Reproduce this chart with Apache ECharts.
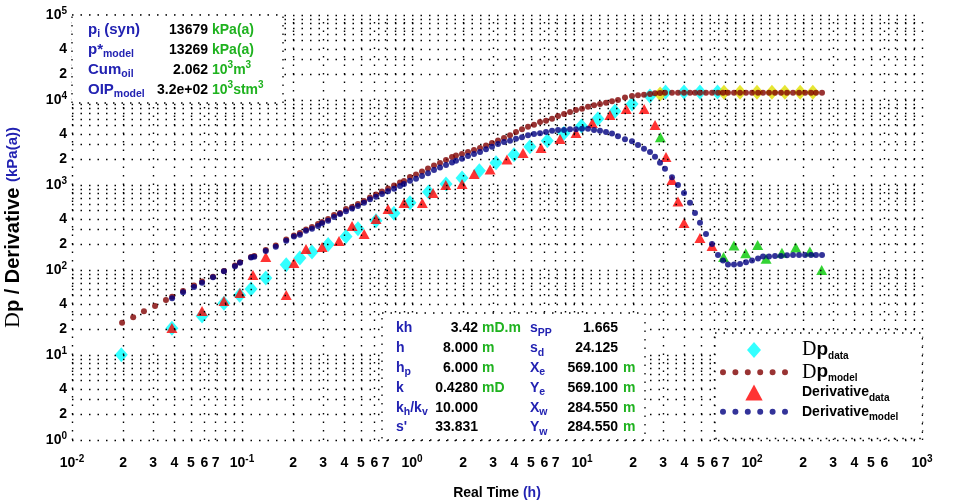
<!DOCTYPE html>
<html>
<head>
<meta charset="utf-8">
<script src="https://cdn.jsdelivr.net/npm/echarts@6.0.0/dist/echarts.min.js"></script>
<style>
html,body{margin:0;padding:0;background:#ffffff;}
#chart{width:956px;height:500px;}
</style>
</head>
<body>
<div id="chart"></div>
<script>
// ================= DATA =================
// Dp data (cyan diamonds)
const dpDataTime  = [0.0195,0.0387,0.0582,0.0783,0.0969,0.113,0.138,0.182,0.219,0.258,0.321,0.409,0.481,0.614,0.783,0.973,1.25,1.585,1.97,2.49,3.12,3.98,4.94,6.25,7.83,9.93,12.4,15.6,19.7,25.1,31.0,39.8,49.4,62.7];
const dpDataValue = [10.1,20.6,28.8,40.6,50.4,59.8,80.5,115,138,163,199,247,306,380,464,619,830,1028,1209,1473,1830,2271,2823,3320,4058,4943,6026,7362,8974,11140,12420,12420,12420,12420];
// Dp data, differently flagged points (yellow diamonds)
const dpFlagTime  = [28.8,68.4,85.0,107,131,156,192,228];
const dpFlagValue = [11770,12300,12300,12300,12300,12300,12300,12300];
// Derivative data (red triangles)
const derDataTime  = [0.0387,0.0582,0.0783,0.0973,0.116,0.138,0.182,0.202,0.238,0.296,0.372,0.444,0.523,0.614,0.723,0.897,1.15,1.33,1.58,1.97,2.32,2.88,3.62,4.50,5.74,7.43,9.22,11.5,14.6,18.2,23.2,26.9,31.2,33.8,36.7,39.8,49.4,58.2];
const derDataValue = [20.8,32.9,43.2,53.6,87.4,142,50.8,121,177,187,219,329,265,398,522,614,614,805,1000,1028,1347,1521,1995,2378,2725,3476,4090,5360,6660,7830,7830,5080,2135,1145,640,357,238,192];
// Derivative data, differently flagged points (green triangles)
const derFlagTime  = [28.9,68.0,78.3,91.8,108,121,150,181,219,257];
const derFlagValue = [3640,142,194,157,197,136,160,184,165,100];
// Model curves
const modelTime = [0.0197,0.0229,0.0265,0.0308,0.0357,0.0388,0.0450,0.0522,0.0582,0.0675,
0.0783,0.0909,0.0973,0.113,0.118,0.138,0.158,0.182,0.202,0.219,
0.238,0.258,0.280,0.296,0.321,0.348,0.377,0.409,0.444,0.481,
0.522,0.566,0.614,0.666,0.723,0.784,0.850,0.897,0.973,1.056,
1.145,1.242,1.347,1.461,1.585,1.719,1.815,1.968,2.135,2.316,
2.512,2.724,2.955,3.205,3.477,3.772,4.091,4.438,4.814,5.221,
5.664,6.143,6.664,7.228,7.840,8.503,9.220,10.00,10.85,11.77,
12.76,13.84,15.01,16.28,17.90,19.68,21.35,23.16,25.12,26.88,
28.76,30.77,33.84,36.70,39.81,43.18,46.20,49.44,53.62,58.17,
63.10,67.52,72.25,78.37,85.03,92.20,100.0,108.5,116.1,125.9,
136.6,148.1,160.7,174.3,189.1,205.1,222.4,237.9,258.1];
const dpModelValue = [24.0,27.8,32.7,37.7,44.4,48.5,56.6,65.7,73.2,83.4,
97.3,113,123,142,146,172,194,228,255,272,
299,321,348,367,398,444,469,522,551,598,
648,713,773,839,910,986,1070,1114,1242,1330,
1442,1563,1695,1815,1968,2134,2223,2317,2445,2580,
2725,2915,3120,3340,3571,3846,4205,4520,4853,5120,
5510,5705,6026,6486,6845,7223,7623,7907,8345,8662,
8974,9298,9660,10000,10700,11140,11360,11540,11770,11990,
12100,12190,12190,12190,12190,12190,12190,12190,12190,12190,
12190,12190,12190,12190,12190,12190,12190,12190,12190,12190,
12190,12190,12190,12190,12190,12190,12190,12190,12190];
const derModelTime = modelTime.slice(5);
const derModelValue = [46.5,54.7,63.1,70.9,82.0,96.5,111,122,140,143,
167,188,221,247,260,290,306,329,354,380,
420,455,492,528,566,619,679,728,784,843,
904,973,1028,1125,1186,1276,1374,1500,1607,1719,
1841,1932,2038,2193,2317,2445,2630,2823,3036,3205,
3319,3508,3640,3846,3981,4055,4205,4355,4436,4436,
4520,4520,4593,4593,4436,4355,4205,4036,3741,3451,
3266,2958,2673,2445,2153,1829,1555,1232,1000,805,
619,469,360,265,202,150,129,116,116,118,
123,129,137,144,144,146,146,149,150,150,
150,150,150,150];

// Axes / ticks
const xMin = 0.01, xMax = 1000, yMin = 1, yMax = 100000;
const xDecades = [0.01, 0.1, 1, 10, 100];
const yDecades = [1, 10, 100, 1000, 10000];
const minorSteps = [2, 3, 4, 5, 6, 7, 8, 9];
const xMinorLabelSteps = [[2,3,4,5,6,7],[2,3,4,5,6,7],[2,3,4,5,6,7],[2,3,4,5,6,7],[2,3,4,5,6]];
const yMinorLabelSteps = [2, 4];

// Text content
const seriesNames = ['Dp data', 'Dp model', 'Derivative data', 'Derivative model'];
const legendLabels = {
  'Dp data': '{D|D}{p|p}{s|data}',
  'Dp model': '{D|D}{p|p}{s|model}',
  'Derivative data': '{t|Derivative}{s|data}',
  'Derivative model': '{t|Derivative}{s|model}'
};
const infoRows = [
  ['{b|p}{s|i}{b| (syn)}', '13679', '{g|kPa(a)}'],
  ['{b|p*}{s|model}', '13269', '{g|kPa(a)}'],
  ['{b|Cum}{s|oil}', '2.062', '{g|10}{gs|3}{g|m}{gs|3}'],
  ['{b|OIP}{s|model}', '3.2e+02', '{g|10}{gs|3}{g|stm}{gs|3}']
];
const paramRows = [
  ['{b|kh}', '3.42', '{g|mD.m}', '{b|s}{s|PP}', '1.665', ''],
  ['{b|h}', '8.000', '{g|m}', '{b|s}{s|d}', '24.125', ''],
  ['{b|h}{s|p}', '6.000', '{g|m}', '{b|X}{s|e}', '569.100', '{g|m}'],
  ['{b|k}', '0.4280', '{g|mD}', '{b|Y}{s|e}', '569.100', '{g|m}'],
  ['{b|k}{s|h}{b|/k}{s|v}', '10.000', '', '{b|X}{s|w}', '284.550', '{g|m}'],
  ["{b|s'}", '33.831', '', '{b|Y}{s|w}', '284.550', '{g|m}']
];

// ================= STYLE =================
const SANS = '"Liberation Sans", Arial, Helvetica, sans-serif';
const SERIF = '"Liberation Serif", "DejaVu Serif", "Times New Roman", serif';
const BLUE = '#2222b2';
const GREEN = '#1fb21f';
const DOT = [1.5, 7];

function zip(a, b) { return a.map((v, i) => [v, b[i]]); }

const tickRich = {
  b: {fontFamily: SANS, fontWeight: 'bold', fontSize: 14, lineHeight: 18, color: '#000'},
  s: {fontFamily: SANS, fontWeight: 'bold', fontSize: 10, lineHeight: 10, color: '#000', verticalAlign: 'top'}
};
function expLabel(v) {
  const e = Math.round(Math.log10(v));
  return '{b|10}{s|' + e + '}';
}

// grid lines (dotted) + minor tick labels
const xLines = [];
xDecades.forEach((d, i) => {
  xLines.push({xAxis: d});
  minorSteps.forEach(s => {
    const show = xMinorLabelSteps[i].indexOf(s) >= 0;
    xLines.push({xAxis: d * s, label: {show: show, formatter: String(s)}});
  });
});
xLines.push({xAxis: xMax});
const yLines = [];
yDecades.forEach(d => {
  yLines.push({yAxis: d});
  minorSteps.forEach(s => {
    const show = yMinorLabelSteps.indexOf(s) >= 0;
    yLines.push({yAxis: d * s, label: {show: show, formatter: String(s)}});
  });
});
yLines.push({yAxis: yMax});

function gridSeries(name, lines, pos, dist) {
  return {
    name: name, type: 'scatter', data: [], silent: true, z: 1,
    markLine: {
      silent: true, animation: false, symbol: ['none', 'none'],
      lineStyle: {color: '#000', type: DOT, width: 1.4},
      label: {show: false, position: pos, distance: dist, color: '#000',
              fontFamily: SANS, fontWeight: 'bold', fontSize: 14, lineHeight: 18},
      emphasis: {disabled: true},
      data: lines
    }
  };
}

const dotIcon = 'path://M0,3a3,3 0 1,0 6,0a3,3 0 1,0 -6,0M12.4,3a3,3 0 1,0 6,0a3,3 0 1,0 -6,0M24.8,3a3,3 0 1,0 6,0a3,3 0 1,0 -6,0M37.2,3a3,3 0 1,0 6,0a3,3 0 1,0 -6,0M49.6,3a3,3 0 1,0 6,0a3,3 0 1,0 -6,0M62,3a3,3 0 1,0 6,0a3,3 0 1,0 -6,0';
const diamondIcon = 'path://M7,0L14,8L7,16L0,8Z';
const triangleIcon = 'path://M6.5,0L13,12L0,12Z';

// text boxes (graphic text uses fill for colour)
function richSet(labelSize) {
  return {
    b: {fontFamily: SANS, fontWeight: 'bold', fontSize: labelSize, lineHeight: 20, fill: BLUE},
    s: {fontFamily: SANS, fontWeight: 'bold', fontSize: 10.5, lineHeight: 10, fill: BLUE, verticalAlign: 'bottom'},
    v: {fontFamily: SANS, fontWeight: 'bold', fontSize: 14, lineHeight: 20, fill: '#000'},
    g: {fontFamily: SANS, fontWeight: 'bold', fontSize: 14, lineHeight: 20, fill: GREEN},
    gs: {fontFamily: SANS, fontWeight: 'bold', fontSize: 10, lineHeight: 10, fill: GREEN, verticalAlign: 'top'}
  };
}
const boxRich = richSet(15);
const paramRich = richSet(14);
function txt(x, y, text, align, rich) {
  return {type: 'text', z: 11, silent: true, x: x, y: y,
    style: {text: text, rich: rich, textAlign: align, textVerticalAlign: 'middle', verticalAlign: 'middle',
            font: 'bold 14px ' + SANS, fill: '#000'}};
}
const boxStyle = {fill: '#ffffff', stroke: '#000', lineWidth: 1.3, lineDash: DOT};
const graphics = [
  {type: 'rect', z: 10, silent: true, shape: {x: 72, y: 15, width: 211, height: 88}, style: boxStyle},
  {type: 'rect', z: 10, silent: true, shape: {x: 382, y: 313, width: 263, height: 127}, style: boxStyle}
];
infoRows.forEach((r, i) => {
  const y = 30 + i * 20;
  graphics.push(txt(88, y, r[0], 'left', boxRich));
  graphics.push(txt(208, y, '{v|' + r[1] + '}', 'right', boxRich));
  graphics.push(txt(212, y, r[2], 'left', boxRich));
});
paramRows.forEach((r, i) => {
  const y = 328.5 + i * 19.8;
  graphics.push(txt(396, y, r[0], 'left', paramRich));
  graphics.push(txt(478, y, '{v|' + r[1] + '}', 'right', paramRich));
  if (r[2]) graphics.push(txt(482, y, r[2], 'left', paramRich));
  graphics.push(txt(530, y, r[3], 'left', paramRich));
  graphics.push(txt(618, y, '{v|' + r[4] + '}', 'right', paramRich));
  if (r[5]) graphics.push(txt(623, y, r[5], 'left', paramRich));
});

const chart = echarts.init(document.getElementById('chart'), null, {renderer: 'canvas'});
chart.setOption({
  animation: false,
  backgroundColor: '#ffffff',
  grid: {left: 72, right: 34, top: 15, bottom: 60, containLabel: false, outerBoundsMode: 'none'},
  xAxis: {
    type: 'log', logBase: 10, min: xMin, max: xMax,
    axisLine: {show: false}, axisTick: {show: false}, splitLine: {show: false},
    axisLabel: {margin: 14, formatter: expLabel, rich: tickRich, showMinLabel: true, showMaxLabel: true},
    name: '{b|Real Time }{u|(h)}', nameLocation: 'middle', nameGap: 46,
    nameTextStyle: {rich: {
      b: {fontFamily: SANS, fontWeight: 'bold', fontSize: 14, color: '#000'},
      u: {fontFamily: SANS, fontWeight: 'bold', fontSize: 14, color: BLUE}
    }}
  },
  yAxis: {
    type: 'log', logBase: 10, min: yMin, max: yMax,
    axisLine: {show: false}, axisTick: {show: false}, splitLine: {show: false},
    axisLabel: {margin: 5, formatter: expLabel, rich: tickRich, showMinLabel: true, showMaxLabel: true},
    name: '{D|D}{p|p / Derivative }{u|(kPa(a))}', nameLocation: 'middle', nameGap: 48, nameRotate: 90,
    nameTextStyle: {rich: {
      D: {fontFamily: SERIF, fontSize: 22, color: '#000'},
      p: {fontFamily: SANS, fontWeight: 'bold', fontSize: 20, color: '#000'},
      u: {fontFamily: SANS, fontWeight: 'bold', fontSize: 15, color: BLUE}
    }}
  },
  legend: {
    orient: 'vertical', left: 715, top: 333, itemWidth: 68, itemHeight: 16, itemGap: 1.5,
    padding: [7, 24, 16, 5], backgroundColor: '#ffffff', borderColor: '#000', borderWidth: 1.3, borderType: DOT,
    selectedMode: false, z: 10,
    data: [
      {name: seriesNames[0], icon: diamondIcon},
      {name: seriesNames[1], icon: dotIcon},
      {name: seriesNames[2], icon: triangleIcon},
      {name: seriesNames[3], icon: dotIcon}
    ],
    formatter: name => legendLabels[name],
    textStyle: {padding: [0, 0, 0, 9], rich: {
      D: {fontFamily: SERIF, fontSize: 20, lineHeight: 21.5, color: '#000'},
      p: {fontFamily: SANS, fontWeight: 'bold', fontSize: 19, lineHeight: 21.5, color: '#000'},
      t: {fontFamily: SANS, fontWeight: 'bold', fontSize: 14, lineHeight: 21.5, color: '#000'},
      s: {fontFamily: SANS, fontWeight: 'bold', fontSize: 10, lineHeight: 10, color: '#000', verticalAlign: 'bottom'}
    }}
  },
  graphic: {elements: graphics},
  series: [
    gridSeries('gridX', xLines, 'start', 14),
    gridSeries('gridY', yLines, 'start', 5),
    {name: seriesNames[0], type: 'scatter', symbol: 'diamond', symbolSize: [13, 15], z: 3,
     itemStyle: {color: '#00ffff'}, data: zip(dpDataTime, dpDataValue)},
    {name: 'Dp data (flagged)', type: 'scatter', symbol: 'diamond', symbolSize: [13, 15], z: 3,
     itemStyle: {color: '#e0e000'}, data: zip(dpFlagTime, dpFlagValue)},
    {name: seriesNames[2], type: 'scatter', symbol: 'triangle', symbolSize: [11, 10], z: 4,
     itemStyle: {color: '#ff0000'}, data: zip(derDataTime, derDataValue)},
    {name: 'Derivative data (flagged)', type: 'scatter', symbol: 'triangle', symbolSize: [11, 10], z: 4,
     itemStyle: {color: '#00c800'}, data: zip(derFlagTime, derFlagValue)},
    {name: seriesNames[1], type: 'scatter', symbol: 'circle', symbolSize: 6, z: 5,
     itemStyle: {color: '#800000'}, data: zip(modelTime, dpModelValue)},
    {name: seriesNames[3], type: 'scatter', symbol: 'circle', symbolSize: 6, z: 6,
     itemStyle: {color: '#000080'}, data: zip(derModelTime, derModelValue)}
  ]
});
</script>
</body>
</html>
